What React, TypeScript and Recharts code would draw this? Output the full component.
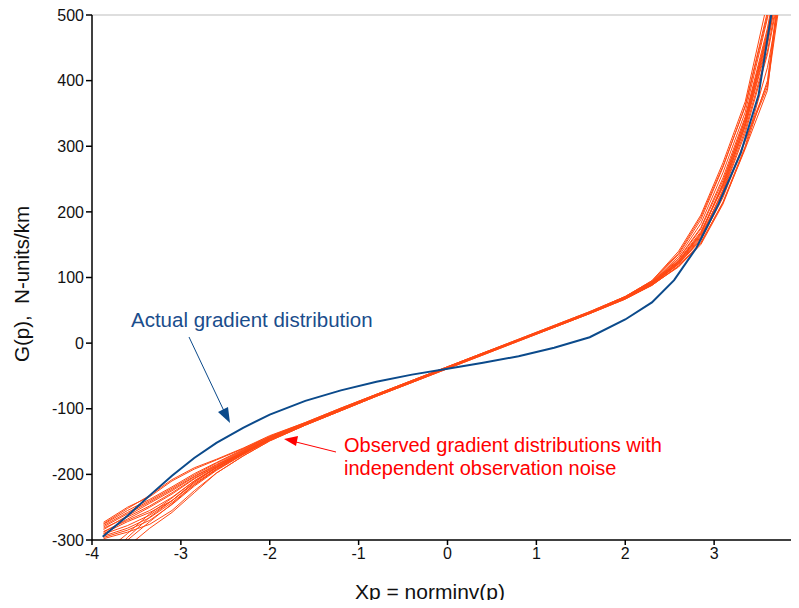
import React from "react";
import {
  LineChart,
  Line,
  XAxis,
  YAxis,
  ReferenceLine,
} from "recharts";

// x positions (normal quantiles) shared by every observed run
const xp = [-3.87, -3.6, -3.35, -3.1, -2.85, -2.6, -2.3, -2.0, -1.6, -1.2, -0.8, -0.4, 0, 0.4, 0.8, 1.2, 1.6, 2.0, 2.3, 2.6, 2.85, 3.1, 3.35, 3.6, 3.87];

// actual gradient distribution
const actualX = [-3.88, -3.6, -3.35, -3.1, -2.85, -2.6, -2.3, -2.0, -1.6, -1.2, -0.8, -0.4, 0, 0.4, 0.8, 1.2, 1.6, 2.0, 2.3, 2.55, 2.8, 3.05, 3.3, 3.5, 3.66];
const actualG = [-295, -263, -232, -202, -175, -152, -129, -109, -88, -72, -59, -48, -39, -30, -20, -7, 9, 36, 62, 96, 145, 212, 290, 378, 515];

// observed gradient distributions (actual + independent observation noise)
const run01 = [-273, -250, -234, -210, -192, -178, -161, -142, -121, -99, -78, -57, -36, -15, 6, 27, 48, 71, 94, 135, 188, 268, 362, 505, 700];
const run02 = [-278, -258, -240, -221, -201, -183, -163, -143, -122, -100, -78, -57, -36, -15, 5, 26, 47, 70, 93, 129, 176, 252, 345, 480, 680];
const run03 = [-282, -265, -248, -228, -206, -187, -166, -145, -123, -101, -79, -58, -37, -16, 5, 26, 47, 69, 91, 125, 168, 242, 336, 465, 650];
const run04 = [-287, -270, -255, -235, -210, -190, -168, -146, -124, -102, -80, -59, -38, -17, 4, 25, 46, 69, 90, 122, 162, 232, 325, 445, 640];
const run05 = [-291, -278, -262, -240, -214, -192, -169, -147, -124, -102, -80, -59, -38, -17, 4, 25, 46, 68, 89, 120, 157, 222, 308, 390, 645];
const run06 = [-296, -285, -270, -246, -218, -194, -170, -148, -125, -103, -81, -60, -38, -17, 4, 24, 45, 68, 88, 118, 153, 214, 296, 385, 700];
const run07 = [-276, -255, -238, -219, -199, -182, -162, -143, -122, -100, -79, -58, -37, -16, 5, 26, 47, 70, 92, 128, 174, 248, 340, 470, 660];
const run08 = [-284, -263, -244, -225, -204, -186, -165, -145, -123, -101, -79, -58, -37, -16, 5, 26, 47, 70, 92, 126, 170, 238, 330, 455, 645];
const run09 = [-320, -290, -260, -236, -210, -189, -167, -146, -124, -102, -80, -59, -38, -17, 4, 25, 46, 69, 91, 123, 164, 230, 320, 440, 630];
const run10 = [-335, -300, -272, -245, -216, -192, -169, -147, -124, -102, -80, -59, -38, -17, 4, 25, 46, 68, 89, 121, 158, 226, 310, 395, 660];
const run11 = [-350, -310, -282, -258, -228, -198, -172, -149, -125, -103, -81, -60, -39, -18, 3, 24, 45, 67, 88, 117, 150, 212, 298, 400, 690];
const run12 = [-290, -272, -258, -240, -212, -189, -167, -146, -123, -101, -79, -58, -37, -16, 5, 26, 47, 70, 93, 132, 182, 260, 352, 495, 690];
const run13 = [-280, -260, -242, -223, -203, -185, -164, -144, -122, -100, -79, -58, -37, -16, 5, 26, 47, 71, 95, 140, 195, 275, 368, 520, 720];
const run14 = [-294, -282, -266, -243, -216, -193, -169, -147, -124, -102, -80, -59, -38, -17, 4, 25, 46, 68, 90, 121, 160, 234, 332, 460, 640];
const run15 = [-340, -296, -265, -240, -212, -190, -168, -146, -123, -101, -79, -58, -37, -16, 5, 26, 47, 69, 91, 124, 166, 244, 342, 475, 660];
const run16 = [-275, -252, -232, -208, -190, -177, -160, -141, -121, -99, -78, -57, -36, -15, 6, 27, 48, 71, 95, 137, 192, 270, 360, 500, 700];
const run17 = [-288, -268, -250, -230, -207, -188, -166, -145, -123, -101, -79, -58, -37, -16, 5, 26, 47, 69, 91, 124, 166, 240, 335, 470, 670];
const run18 = [-298, -288, -276, -255, -225, -198, -172, -149, -125, -103, -81, -60, -39, -18, 3, 24, 45, 67, 89, 116, 152, 215, 300, 420, 620];

const observedRuns = [run01, run02, run03, run04, run05, run06, run07, run08, run09, run10, run11, run12, run13, run14, run15, run16, run17, run18];

const xTicks = [-4, -3, -2, -1, 0, 1, 2, 3, 4];
const yTicks = [-300, -200, -100, 0, 100, 200, 300, 400, 500];

const FONT = "'Liberation Sans', Arial, sans-serif";
const BLUE = "#0b4a8b";
const ORANGE = "#ff4812";

const actualData = actualX.map((x, i) => ({ x, g: actualG[i] }));
const observedData = observedRuns.map((run) => run.map((g, i) => ({ x: xp[i], g })));

export default function App() {
  return (
    <div
      style={{
        position: "relative",
        margin: -8,
        width: 799,
        height: 608,
        overflow: "hidden",
        background: "#fff",
        fontFamily: FONT,
      }}
    >
      <LineChart
        width={820}
        height={608}
        margin={{ top: 15, right: 17, bottom: 0, left: 0 }}
      >
        <XAxis
          type="number"
          dataKey="x"
          domain={[-4, 4]}
          ticks={xTicks}
          allowDataOverflow
          height={68}
          stroke="#000"
          strokeWidth={1.5}
          tickSize={5}
          tickMargin={3}
          tick={{ fill: "#111", fontSize: 16, fontFamily: FONT }}
        />
        <YAxis
          type="number"
          dataKey="g"
          domain={[-300, 500]}
          ticks={yTicks}
          allowDataOverflow
          width={92}
          stroke="#000"
          strokeWidth={1.5}
          tickSize={6}
          tickMargin={2}
          tick={{ fill: "#111", fontSize: 16, fontFamily: FONT }}
        />
        <ReferenceLine y={500} stroke="#bdbdbd" strokeWidth={1} />
        {observedData.map((d, i) => (
          <Line
            key={i}
            data={d}
            dataKey="g"
            type="linear"
            stroke={ORANGE}
            strokeWidth={1}
            dot={false}
            activeDot={false}
            isAnimationActive={false}
          />
        ))}
        <Line
          data={actualData}
          dataKey="g"
          type="linear"
          stroke={BLUE}
          strokeWidth={2}
          dot={false}
          activeDot={false}
          isAnimationActive={false}
        />
      </LineChart>

      <svg
        width={799}
        height={608}
        style={{ position: "absolute", left: 0, top: 0, pointerEvents: "none" }}
        fontFamily={FONT}
      >
        <text x={430} y={599} textAnchor="middle" fontSize={21} fill="#111">
          Xp = norminv(p)
        </text>
        <text
          x={0}
          y={0}
          transform="translate(29,284) rotate(-90)"
          textAnchor="middle"
          fontSize={20.5}
          fill="#111"
          style={{ whiteSpace: "pre" }}
        >
          {"G(p),  N-units/km"}
        </text>

        <text x={131} y={327} fontSize={20.5} fill="#1a4d8c">
          Actual gradient distribution
        </text>
        <line x1={189} y1={337} x2={224} y2={411} stroke={BLUE} strokeWidth={1} />
        <polygon points="230,423 218,412 228,407" fill={BLUE} />

        <text x={344} y={452} fontSize={20} fill="#ff0000">
          Observed gradient distributions with
        </text>
        <text x={344} y={475} fontSize={20} fill="#ff0000">
          independent observation noise
        </text>
        <line x1={336} y1={452} x2={296} y2={442} stroke="#ff0000" strokeWidth={1} />
        <polygon points="284,439 298,436 296,446" fill="#ff0000" />
      </svg>
    </div>
  );
}
